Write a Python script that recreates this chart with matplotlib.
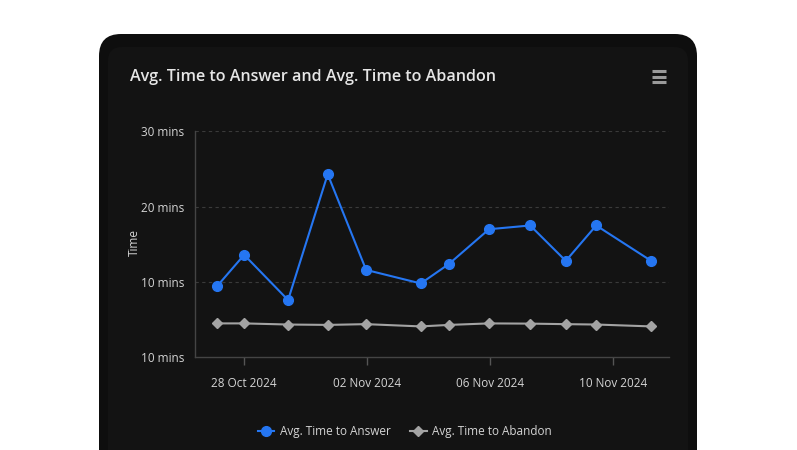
import matplotlib.pyplot as plt
from matplotlib.patches import FancyBboxPatch
from matplotlib.lines import Line2D

# days counted from 28 Oct 2024 (timestamps are not on whole days)
day_offset = [-0.89, 0.0, 1.43, 2.72, 3.97, 5.75, 6.67, 7.97, 9.31, 10.47, 11.46, 13.25]
answer_mins = [9.4, 13.6, 7.6, 24.3, 11.6, 9.8, 12.4, 17.0, 17.5, 12.8, 17.5, 12.8]
abandon_mins = [4.5, 4.5, 4.35, 4.3, 4.4, 4.1, 4.3, 4.5, 4.47, 4.4, 4.35, 4.1]

x_ticks = [0, 4, 8, 12]
x_tick_labels = ["28 Oct 2024", "02 Nov 2024", "06 Nov 2024", "10 Nov 2024"]
y_ticks = [0, 10, 20, 30]
y_tick_labels = ["10 mins", "10 mins", "20 mins", "30 mins"]

title = "Avg. Time to Answer and Avg. Time to Abandon"
series_names = ["Avg. Time to Answer", "Avg. Time to Abandon"]

W, H = 797, 450
BLUE = "#2576f2"
GREY = "#a3a3a3"
TXT = "#d4d4d4"

plt.rcParams["font.family"] = ["Open Sans", "DejaVu Sans"]

fig = plt.figure(figsize=(W / 100, H / 100), dpi=100)
fig.patch.set_facecolor("white")

# card background (pixel coords, y from bottom)
bg = fig.add_axes([0, 0, 1, 1])
bg.set_xlim(0, W)
bg.set_ylim(0, H)
bg.axis("off")
bg.add_patch(FancyBboxPatch((99, -40), 598, H - 34 + 40,
                            boxstyle="round,pad=0,rounding_size=22",
                            fc="#0e0e0e", ec="none"))
bg.add_patch(FancyBboxPatch((108, -40), 580, H - 47 + 40,
                            boxstyle="round,pad=0,rounding_size=14",
                            fc="#131313", ec="none"))
# hamburger menu icon
for yy in (71, 76.5, 82):
    bg.plot([652, 666], [H - yy, H - yy], color="#9a9a9a", lw=2.2,
            solid_capstyle="butt")

fig.text(130 / W, 1 - 77 / H, title, color="#e6e6e6", fontsize=11.6,
         fontweight="semibold", ha="left", va="center")

ax = fig.add_axes([195 / W, 1 - 357.3 / H, (668.7 - 195) / W, (357.3 - 131.3) / H])
ax.set_facecolor("none")

ax.plot(day_offset, answer_mins, color=BLUE, lw=1.5, marker="o", ms=7,
        zorder=3)
ax.plot(day_offset, abandon_mins, color=GREY, lw=1.5, marker="D", ms=5,
        zorder=3)

ax.set_xlim(-1.6, 13.82)
ax.set_ylim(0, 30)
ax.set_xticks(x_ticks)
ax.set_xticklabels(x_tick_labels)
ax.set_yticks(y_ticks)
ax.set_yticklabels(y_tick_labels)
ax.tick_params(axis="x", colors="#555555", length=6, width=1, pad=8,
               labelcolor=TXT, labelsize=8.5)
ax.tick_params(axis="y", length=0, pad=8, labelcolor=TXT, labelsize=8.5)

for yv in y_ticks[1:]:
    ax.axhline(yv, color="#3a3a3a", lw=0.8, ls=(0, (3, 3)), zorder=1)

for side in ("top", "right"):
    ax.spines[side].set_visible(False)
for side in ("left", "bottom"):
    ax.spines[side].set_color("#444444")
    ax.spines[side].set_linewidth(1)

fig.text(134 / W, 1 - 243 / H, "Time", color=TXT, fontsize=8.5,
         rotation=90, ha="center", va="center")

handles = [
    Line2D([], [], color=BLUE, lw=1.5, marker="o", ms=7),
    Line2D([], [], color=GREY, lw=1.5, marker="D", ms=5),
]
leg = fig.legend(handles, series_names, loc="center",
                 bbox_to_anchor=(405 / W, 1 - 432 / H), ncol=2, frameon=False,
                 handlelength=1.4, handletextpad=0.5, columnspacing=1.6,
                 fontsize=8.5)
for t in leg.get_texts():
    t.set_color(TXT)

fig.savefig("out.png", dpi=100, facecolor=fig.get_facecolor())
